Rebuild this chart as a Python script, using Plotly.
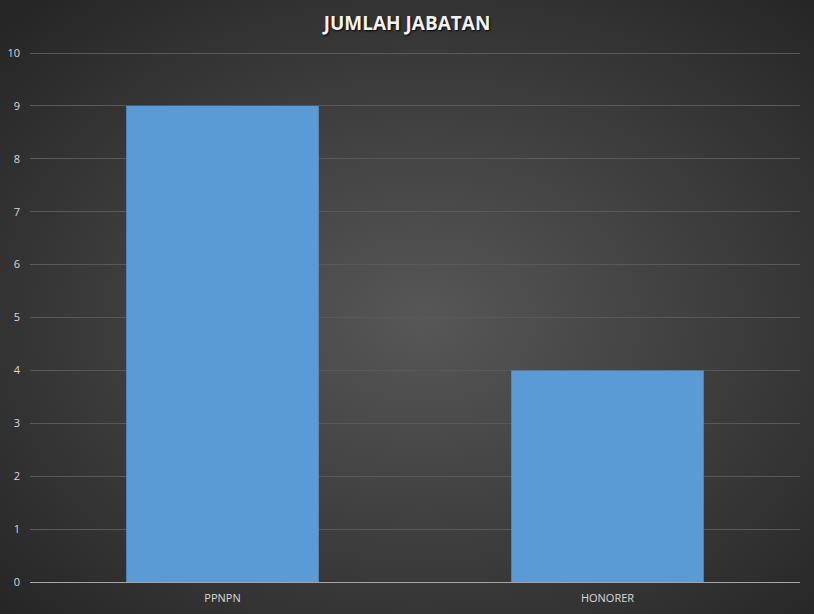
import base64
import plotly.graph_objects as go

# data
categories = ["PPNPN", "HONORER"]
values = [9, 4]
y_ticks = list(range(0, 11))

# radial dark background as an svg image
svg = """<svg xmlns='http://www.w3.org/2000/svg' width='814' height='614'>
<defs><radialGradient id='g' cx='52%' cy='52%' r='70%'>
<stop offset='0%' stop-color='#575757'/>
<stop offset='100%' stop-color='#262626'/>
</radialGradient></defs>
<rect width='814' height='614' fill='url(#g)'/></svg>"""
bg_uri = "data:image/svg+xml;base64," + base64.b64encode(svg.encode()).decode()

fig = go.Figure(go.Bar(
    x=categories,
    y=values,
    width=0.5,
    marker=dict(color="#5b9bd5", line=dict(width=0)),
    hoverinfo="x+y",
))

fig.update_layout(
    width=814,
    height=614,
    margin=dict(l=30, r=14, t=52, b=32),
    paper_bgcolor="#3c3c3c",
    plot_bgcolor="rgba(0,0,0,0)",
    showlegend=False,
    title=dict(
        text="JUMLAH JABATAN",
        x=0.5,
        xanchor="center",
        y=0.9625,
        yanchor="middle",
        font=dict(family="Open Sans", size=19, color="#f2f2f2", weight="bold",
                  shadow="1px 1px 2px #000000"),
    ),
    font=dict(family="Open Sans", color="#d9d9d9", size=11),
    images=[dict(source=bg_uri, xref="paper", yref="paper", x=-30 / 770, y=1 + 52 / 530,
                 sizex=814 / 770, sizey=614 / 530, xanchor="left", yanchor="top",
                 sizing="stretch", layer="below")],
    xaxis=dict(
        showgrid=False,
        showline=True,
        linecolor="#a6a6a6",
        linewidth=1,
        ticks="",
        tickfont=dict(size=11, color="#d9d9d9"),
        zeroline=False,
        automargin=False,
        ticklabelstandoff=6,
    ),
    yaxis=dict(
        range=[0, 10.02],
        tickvals=y_ticks,
        showgrid=True,
        gridcolor="#595959",
        gridwidth=1,
        zeroline=False,
        showline=False,
        ticks="",
        tickfont=dict(size=11, color="#d9d9d9"),
        ticklabelstandoff=9,
        automargin=False,
    ),
)

fig.write_html("out.html", config={"displayModeBar": False},
               post_script="document.body.style.margin='0';")
